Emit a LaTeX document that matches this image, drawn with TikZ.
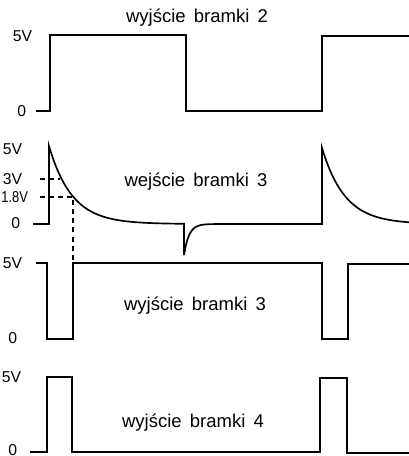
\documentclass[tikz,border=0pt]{standalone}
\usepackage{fontspec}
\setmainfont{Liberation Sans}
\begin{document}
\begin{tikzpicture}[x=0.019cm, y=-0.019cm, line width=0.9pt, line join=miter]
\useasboundingbox (0,0) rectangle (409,456);
\node[anchor=base, font=\fontsize{10}{12}\selectfont] (tyt2) at (197,23){wyjście\, bramki\, 2};
\node[anchor=base, font=\fontsize{10}{12}\selectfont] (tyt3we) at (196,187){wejście\, bramki\, 3};
\node[anchor=base, font=\fontsize{10}{12}\selectfont] (tyt3wy) at (195,310){wyjście\, bramki\, 3};
\node[anchor=base, font=\fontsize{10}{12}\selectfont] (tyt4) at (193,427){wyjście\, bramki\, 4};
\node[anchor=base east, inner sep=0pt, font=\fontsize{8.5}{10}\selectfont] (v5a) at (33,42){5V};
\node[anchor=base east, inner sep=0pt, font=\fontsize{8.5}{10}\selectfont] (v0a) at (27,117){0};
\node[anchor=base east, inner sep=0pt, font=\fontsize{8.5}{10}\selectfont] (v5b) at (23,155){5V};
\node[anchor=base east, inner sep=0pt, font=\fontsize{8.5}{10}\selectfont] (v3b) at (23,185){3V};
\node[anchor=base west, inner sep=0pt, font=\fontsize{8.5}{10}\selectfont] (v18b) at (0.5,203){\scalebox{0.82}[1]{1.8V}};
\node[anchor=base east, inner sep=0pt, font=\fontsize{8.5}{10}\selectfont] (v0b) at (21,229){0};
\node[anchor=base east, inner sep=0pt, font=\fontsize{8.5}{10}\selectfont] (v5c) at (23,268){5V};
\node[anchor=base east, inner sep=0pt, font=\fontsize{8.5}{10}\selectfont] (v0c) at (18,343){0};
\node[anchor=base east, inner sep=0pt, font=\fontsize{8.5}{10}\selectfont] (v5d) at (22,382){5V};
\node[anchor=base east, inner sep=0pt, font=\fontsize{8.5}{10}\selectfont] (v0d) at (18,455){0};
\draw[](36,111) -- (50,111) -- (50,35) -- (186,35) -- (186,111) -- (322,111) -- (322,36) -- (409,36);
\draw[](33,224) -- (49,224) -- (49,146)
  -- plot[domain=49:184, samples=80] (\x,{224-78*exp(-(\x-49)/23)})
  -- (184,255)
  -- plot[domain=184:322, samples=80] (\x,{224+31*exp(-(\x-184)/5)})
  -- (322,148)
  -- plot[domain=322:409, samples=60] (\x,{224-76*exp(-(\x-322)/23)});
\draw[](36,263) -- (47,263) -- (47,339) -- (73,339) -- (73,263) -- (322,263) -- (322,339) -- (348,339) -- (348,264) -- (409,264);
\draw[](30,452) -- (47,452) -- (47,377) -- (72,377) -- (72,452) -- (320,452) -- (320,378) -- (347,378) -- (347,453) -- (409,453);
\draw[line width=0.6pt, dash pattern=on 2.7pt off 2.2pt](40,179) -- (60,179);
\draw[line width=0.6pt, dash pattern=on 2.7pt off 2.2pt](40,197) -- (73,197) -- (73,263);
\end{tikzpicture}
\end{document}
